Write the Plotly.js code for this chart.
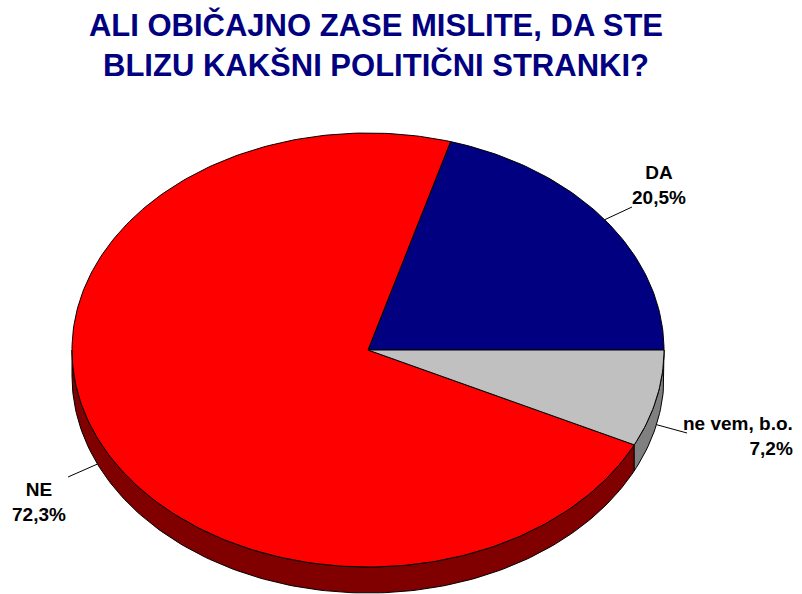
<!DOCTYPE html>
<html>
<head>
<meta charset="utf-8">
<script src="https://cdn.plot.ly/plotly-3.0.1.min.js"></script>
<style>html,body{margin:0;padding:0;background:#fff;}#chart{width:802px;height:594px;}</style>
</head>
<body>
<div id="chart"></div>
<script>
// ---- data ----
const labels = ['DA', 'NE', 'ne vem, b.o.'];
const values = [20.5, 72.3, 7.2];
const valueText = ['20,5%', '72,3%', '7,2%'];
const topColors = ['#000080', '#FF0000', '#C0C0C0'];
const sideColors = ['#000040', '#800000', '#808080'];
const titleText = 'ALI OBIČAJNO ZASE MISLITE, DA STE<br>BLIZU KAKŠNI POLITIČNI STRANKI?';

// ---- geometry (layout constants, pixel units) ----
const CX = 368, CY = 350, RX = 296, RY = 217, DEPTH = 26;
const FONT = 'Liberation Sans, Arial, Helvetica, sans-serif';

function pt(deg, dy) {
  const t = deg * Math.PI / 180;
  return [CX + RX * Math.cos(t), CY - RY * Math.sin(t) + (dy || 0)];
}
function arc(a, b, dy) {
  const pts = [];
  const n = Math.max(2, Math.ceil(Math.abs(b - a)));
  for (let i = 0; i <= n; i++) pts.push(pt(a + (b - a) * i / n, dy));
  return pts;
}

const total = values.reduce((s, v) => s + v, 0);
const slices = [];
let acc = 0;
values.forEach((v, i) => {
  const a = acc / total * 360;
  acc += v;
  const b = acc / total * 360;
  slices.push({a, b, mid: (a + b) / 2});
});

const traces = [];
// sides (visible front half: 180..360 deg)
slices.forEach((s, i) => {
  const lo = Math.max(s.a, 180), hi = Math.min(s.b, 360);
  if (lo < hi) {
    const pts = arc(lo, hi, 0).concat(arc(hi, lo, DEPTH));
    pts.push(pts[0]);
    traces.push({
      type: 'scatter', mode: 'lines', fill: 'toself',
      x: pts.map(p => p[0]), y: pts.map(p => p[1]),
      fillcolor: sideColors[i], line: {color: '#000000', width: 1},
      hoverinfo: 'skip', showlegend: false
    });
  }
});
// tops
slices.forEach((s, i) => {
  const pts = [[CX, CY]].concat(arc(s.a, s.b, 0));
  pts.push([CX, CY]);
  traces.push({
    type: 'scatter', mode: 'lines', fill: 'toself',
    x: pts.map(p => p[0]), y: pts.map(p => p[1]),
    fillcolor: topColors[i], line: {color: '#000000', width: 1},
    name: labels[i], text: labels[i] + ' ' + valueText[i], hoverinfo: 'text',
    showlegend: false
  });
});

// labels + leader lines
const labelPos = [
  {x: 659, y: 184.5, xanchor: 'center', align: 'center', end: [632, 207]},
  {x: 39, y: 501.5, xanchor: 'center', align: 'center', end: [68, 477]},
  {x: 795, y: 435.5, xanchor: 'right', align: 'right', end: [687, 433]}
];
const annotations = [];
const shapes = [];
slices.forEach((s, i) => {
  const lp = labelPos[i];
  annotations.push({
    x: lp.x, y: lp.y, xref: 'x', yref: 'y', xanchor: lp.xanchor, yanchor: 'middle',
    align: lp.align, showarrow: false,
    text: '<b>' + labels[i] + '<br>' + valueText[i] + '</b>',
    font: {family: FONT, size: 19, color: '#000000'}
  });
  const inLower = Math.sin(s.mid * Math.PI / 180) < 0;
  const start = pt(s.mid, inLower ? DEPTH : 0);
  shapes.push({
    type: 'line', xref: 'x', yref: 'y',
    x0: start[0], y0: start[1], x1: lp.end[0], y1: lp.end[1],
    line: {color: '#000000', width: 1}
  });
});

const layout = {
  width: 802, height: 594,
  margin: {l: 0, r: 0, t: 0, b: 0},
  paper_bgcolor: '#ffffff', plot_bgcolor: '#ffffff',
  title: {
    text: '<b>' + titleText + '</b>',
    font: {family: FONT, size: 31, color: '#000080'},
    x: 376 / 802, xanchor: 'center', xref: 'container',
    y: 1 - 36 / 594, yanchor: 'middle', yref: 'container'
  },
  xaxis: {range: [0, 802], visible: false, fixedrange: true},
  yaxis: {range: [594, 0], visible: false, fixedrange: true},
  showlegend: false,
  annotations: annotations,
  shapes: shapes
};

Plotly.newPlot('chart', traces, layout, {displayModeBar: false, staticPlot: true});
</script>
</body>
</html>
